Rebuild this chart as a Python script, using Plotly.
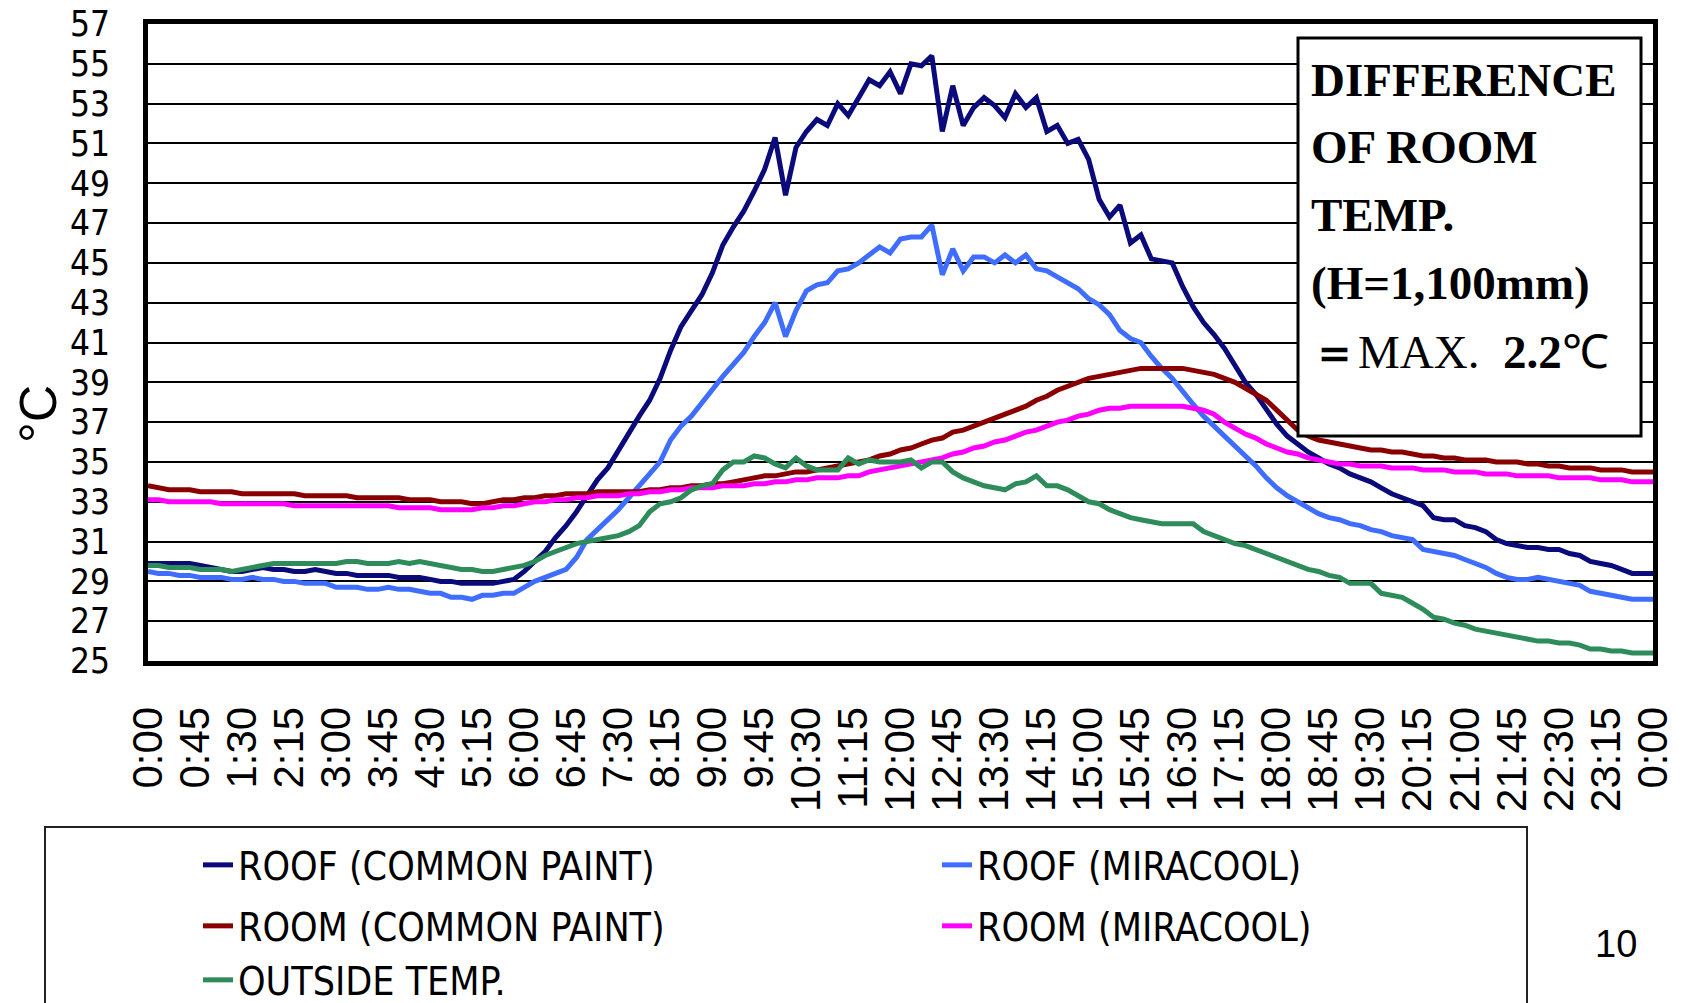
import plotly.graph_objects as go

# ---------------- data (10-minute readings, 0:00 -> 24:00) ----------------
TIME_MIN = list(range(0, 1441, 10))

ROOF_COMMON = [
    29.9, 29.9, 29.9, 29.9, 29.9, 29.8,
    29.7, 29.6, 29.5, 29.5, 29.6, 29.7,
    29.6, 29.6, 29.5, 29.5, 29.6, 29.5,
    29.4, 29.4, 29.3, 29.3, 29.3, 29.3,
    29.2, 29.2, 29.2, 29.1, 29.0, 29.0,
    28.9, 28.9, 28.9, 28.9, 29.0, 29.1,
    29.5, 30.0, 30.5, 31.2, 31.8, 32.5,
    33.3, 34.1, 34.7, 35.6, 36.5, 37.3,
    38.1, 39.2, 40.6, 41.8, 42.6, 43.4,
    44.5, 45.9, 46.8, 47.6, 48.6, 49.7,
    51.3, 48.4, 50.8, 51.6, 52.2, 51.9,
    53.0, 52.4, 53.3, 54.2, 53.9, 54.6,
    53.5, 55.0, 54.9, 55.4, 51.6, 53.9,
    51.9, 52.8, 53.3, 52.9, 52.3, 53.5,
    52.8, 53.3, 51.6, 51.9, 51.0, 51.2,
    50.2, 48.2, 47.3, 47.9, 46.0, 46.4,
    45.2, 45.1, 45.0, 43.8, 42.8, 42.0,
    41.4, 40.7, 39.8, 39.0, 38.4, 37.6,
    36.9, 36.3, 35.9, 35.5, 35.2, 34.9,
    34.7, 34.4, 34.2, 34.0, 33.7, 33.4,
    33.2, 33.0, 32.8, 32.2, 32.1, 32.1,
    31.8, 31.7, 31.5, 31.1, 30.9, 30.8,
    30.7, 30.7, 30.6, 30.6, 30.4, 30.3,
    30.0, 29.9, 29.8, 29.6, 29.4, 29.4,
    29.4,
]

ROOF_MIRACOOL = [
    29.5, 29.4, 29.4, 29.3, 29.3, 29.2,
    29.2, 29.2, 29.1, 29.1, 29.2, 29.1,
    29.1, 29.0, 29.0, 28.9, 28.9, 28.9,
    28.7, 28.7, 28.7, 28.6, 28.6, 28.7,
    28.6, 28.6, 28.5, 28.4, 28.4, 28.2,
    28.2, 28.1, 28.3, 28.3, 28.4, 28.4,
    28.7, 29.0, 29.2, 29.4, 29.6, 30.2,
    31.1, 31.6, 32.1, 32.6, 33.2, 33.8,
    34.4, 35.0, 36.1, 36.8, 37.3, 38.0,
    38.6, 39.3, 39.9, 40.5, 41.3, 42.0,
    43.0, 41.3, 42.6, 43.6, 43.9, 44.0,
    44.6, 44.7, 45.0, 45.4, 45.8, 45.5,
    46.2, 46.3, 46.3, 46.9, 44.4, 45.7,
    44.6, 45.3, 45.3, 45.0, 45.4, 45.0,
    45.4, 44.7, 44.6, 44.3, 44.0, 43.7,
    43.2, 42.9, 42.4, 41.6, 41.2, 41.0,
    40.3, 39.7, 39.2, 38.5, 37.9, 37.3,
    36.8, 36.3, 35.8, 35.3, 34.8, 34.2,
    33.7, 33.3, 33.0, 32.7, 32.4, 32.2,
    32.1, 31.9, 31.8, 31.6, 31.5, 31.3,
    31.2, 31.1, 30.6, 30.5, 30.4, 30.3,
    30.1, 29.9, 29.7, 29.4, 29.2, 29.1,
    29.1, 29.2, 29.1, 29.0, 28.9, 28.8,
    28.5, 28.4, 28.3, 28.2, 28.1, 28.1,
    28.1,
]

ROOM_COMMON = [
    33.8, 33.7, 33.6, 33.6, 33.6, 33.5,
    33.5, 33.5, 33.5, 33.4, 33.4, 33.4,
    33.4, 33.4, 33.4, 33.3, 33.3, 33.3,
    33.3, 33.3, 33.2, 33.2, 33.2, 33.2,
    33.2, 33.1, 33.1, 33.1, 33.0, 33.0,
    33.0, 32.9, 32.9, 33.0, 33.1, 33.1,
    33.2, 33.2, 33.3, 33.3, 33.4, 33.4,
    33.4, 33.5, 33.5, 33.5, 33.5, 33.5,
    33.6, 33.6, 33.7, 33.7, 33.8, 33.8,
    33.9, 33.9, 34.0, 34.1, 34.2, 34.3,
    34.3, 34.4, 34.5, 34.5, 34.6, 34.7,
    34.8, 34.9, 35.0, 35.1, 35.3, 35.4,
    35.6, 35.7, 35.9, 36.1, 36.2, 36.5,
    36.6, 36.8, 37.0, 37.2, 37.4, 37.6,
    37.8, 38.1, 38.3, 38.6, 38.8, 39.0,
    39.2, 39.3, 39.4, 39.5, 39.6, 39.7,
    39.7, 39.7, 39.7, 39.7, 39.6, 39.5,
    39.4, 39.2, 39.0, 38.7, 38.4, 38.1,
    37.6, 37.1, 36.6, 36.3, 36.1, 36.0,
    35.9, 35.8, 35.7, 35.6, 35.6, 35.5,
    35.5, 35.4, 35.3, 35.3, 35.2, 35.2,
    35.1, 35.1, 35.1, 35.0, 35.0, 35.0,
    34.9, 34.9, 34.8, 34.8, 34.7, 34.7,
    34.7, 34.6, 34.6, 34.6, 34.5, 34.5,
    34.5,
]

ROOM_MIRACOOL = [
    33.1, 33.1, 33.0, 33.0, 33.0, 33.0,
    33.0, 32.9, 32.9, 32.9, 32.9, 32.9,
    32.9, 32.9, 32.8, 32.8, 32.8, 32.8,
    32.8, 32.8, 32.8, 32.8, 32.8, 32.8,
    32.7, 32.7, 32.7, 32.7, 32.6, 32.6,
    32.6, 32.6, 32.7, 32.7, 32.8, 32.8,
    32.9, 33.0, 33.0, 33.1, 33.1, 33.2,
    33.2, 33.3, 33.3, 33.3, 33.4, 33.4,
    33.5, 33.5, 33.6, 33.6, 33.7, 33.7,
    33.7, 33.8, 33.8, 33.8, 33.9, 33.9,
    34.0, 34.0, 34.1, 34.1, 34.2, 34.2,
    34.2, 34.3, 34.3, 34.5, 34.6, 34.7,
    34.8, 34.9, 35.0, 35.1, 35.2, 35.4,
    35.5, 35.7, 35.8, 36.0, 36.1, 36.3,
    36.5, 36.6, 36.8, 37.0, 37.1, 37.3,
    37.4, 37.6, 37.7, 37.7, 37.8, 37.8,
    37.8, 37.8, 37.8, 37.8, 37.7, 37.6,
    37.4, 37.0, 36.7, 36.4, 36.2, 35.9,
    35.7, 35.5, 35.4, 35.2, 35.1, 35.0,
    34.9, 34.9, 34.8, 34.8, 34.8, 34.7,
    34.7, 34.7, 34.6, 34.6, 34.6, 34.5,
    34.5, 34.5, 34.4, 34.4, 34.4, 34.3,
    34.3, 34.3, 34.3, 34.2, 34.2, 34.2,
    34.2, 34.1, 34.1, 34.1, 34.0, 34.0,
    34.0,
]

OUTSIDE = [
    29.8, 29.8, 29.7, 29.7, 29.7, 29.6,
    29.6, 29.6, 29.5, 29.6, 29.7, 29.8,
    29.9, 29.9, 29.9, 29.9, 29.9, 29.9,
    29.9, 30.0, 30.0, 29.9, 29.9, 29.9,
    30.0, 29.9, 30.0, 29.9, 29.8, 29.7,
    29.6, 29.6, 29.5, 29.5, 29.6, 29.7,
    29.8, 30.0, 30.3, 30.5, 30.7, 30.9,
    31.0, 31.1, 31.2, 31.3, 31.5, 31.8,
    32.5, 32.9, 33.0, 33.2, 33.6, 33.8,
    33.9, 34.6, 35.0, 35.0, 35.3, 35.2,
    34.9, 34.7, 35.2, 34.8, 34.6, 34.6,
    34.6, 35.2, 34.9, 35.1, 35.0, 35.0,
    35.0, 35.1, 34.7, 35.0, 35.0, 34.5,
    34.2, 34.0, 33.8, 33.7, 33.6, 33.9,
    34.0, 34.3, 33.8, 33.8, 33.6, 33.3,
    33.0, 32.9, 32.6, 32.4, 32.2, 32.1,
    32.0, 31.9, 31.9, 31.9, 31.9, 31.5,
    31.3, 31.1, 30.9, 30.8, 30.6, 30.4,
    30.2, 30.0, 29.8, 29.6, 29.5, 29.3,
    29.2, 28.9, 28.9, 28.9, 28.4, 28.3,
    28.2, 27.9, 27.6, 27.2, 27.1, 26.9,
    26.8, 26.6, 26.5, 26.4, 26.3, 26.2,
    26.1, 26.0, 26.0, 25.9, 25.9, 25.8,
    25.6, 25.6, 25.5, 25.5, 25.4, 25.4,
    25.4,
]

TICK_MIN = list(range(0, 1441, 45))
TICK_LABELS = [
    "0:00", "0:45", "1:30", "2:15", "3:00", "3:45", "4:30", "5:15", "6:00",
    "6:45", "7:30", "8:15", "9:00", "9:45", "10:30", "11:15", "12:00",
    "12:45", "13:30", "14:15", "15:00", "15:45", "16:30", "17:15", "18:00",
    "18:45", "19:30", "20:15", "21:00", "21:45", "22:30", "23:15", "0:00",
]

# name, values, colour, legend row
SERIES = [
    ("ROOF (COMMON PAINT)", ROOF_COMMON, "#0a0a7a", "legend"),
    ("ROOF (MIRACOOL)", ROOF_MIRACOOL, "#3f6dff", "legend"),
    ("ROOM (COMMON PAINT)", ROOM_COMMON, "#8a0000", "legend2"),
    ("ROOM (MIRACOOL)", ROOM_MIRACOOL, "#ff00ff", "legend2"),
    ("OUTSIDE TEMP.", OUTSIDE, "#2e8b5a", "legend3"),
]

NOTE_LINES = [
    "<b>DIFFERENCE</b>",
    "<b>OF ROOM</b>",
    "<b>TEMP.</b>",
    "<b>(H=1,100mm)</b>",
    "<b>＝</b>MAX.\u00a0\u00a0<b>2.2</b>℃",
]

# ---------------- layout geometry (pixels) ----------------
W, H = 1689, 1003
PL, PR, PT, PB = 148, 1653, 24, 661
PW, PH = PR - PL, PB - PT


def px(x):
    return (x - PL) / PW


def py(y):
    return (PB - y) / PH


NARROW = "Liberation Sans Narrow, Arial Narrow, DejaVu Sans Condensed, sans-serif"
SANS = "Liberation Sans, Arial, sans-serif"

fig = go.Figure()
for name, vals, col, leg in SERIES:
    fig.add_trace(go.Scatter(
        x=TIME_MIN, y=vals, mode="lines", name=name, legend=leg,
        line=dict(color=col, width=5),
    ))


def legend_row(yc):
    return dict(
        orientation="h", x=px(198), y=py(yc), xanchor="left", yanchor="middle",
        font=dict(family=NARROW, size=39, color="black"),
        entrywidth=694, entrywidthmode="pixels",
        bgcolor="rgba(0,0,0,0)", borderwidth=0, itemwidth=30,
    )


fig.update_layout(
    width=W, height=H,
    margin=dict(l=PL, r=W - PR, t=PT, b=H - PB, pad=0, autoexpand=False),
    paper_bgcolor="white", plot_bgcolor="white",
    showlegend=True,
    legend=legend_row(865),
    legend2=legend_row(926),
    legend3=legend_row(980),
    xaxis=dict(
        range=[0, 1440], tickmode="array", tickvals=TICK_MIN, ticktext=TICK_LABELS,
        tickangle=-90, showgrid=False, zeroline=False, automargin=False,
        showline=True, mirror=True, linecolor="black", linewidth=5,
        ticks="", ticklabelstandoff=24, ticklabeloverflow="allow",
        tickfont=dict(family=SANS, size=42, color="black"),
    ),
    yaxis=dict(
        range=[25, 57], tick0=25, dtick=2, showgrid=True, gridcolor="black", gridwidth=1.5,
        zeroline=False, showline=True, mirror=True, linecolor="black", linewidth=5,
        automargin=False, ticks="", ticklabelstandoff=26, ticklabeloverflow="allow",
        tickfont=dict(family=NARROW, size=35, color="black"),
    ),
    shapes=[
        dict(type="rect", xref="paper", yref="paper", layer="above",
             x0=px(1298), x1=px(1641), y0=py(436), y1=py(38),
             fillcolor="white", line=dict(color="black", width=3)),
        dict(type="rect", xref="paper", yref="paper", layer="below",
             x0=px(45), x1=px(1527), y0=py(1010), y1=py(827),
             fillcolor="rgba(0,0,0,0)", line=dict(color="#222222", width=2)),
    ],
)

annotations = [
    dict(text="°C", x=px(38), y=py(414), xref="paper", yref="paper",
         textangle=-90, showarrow=False, xanchor="center", yanchor="middle",
         font=dict(family=SANS, size=52, color="black")),
    dict(text="10", x=px(1616), y=py(944), xref="paper", yref="paper",
         showarrow=False, xanchor="center", yanchor="middle",
         font=dict(family=SANS, size=38, color="black")),
]
for line, yc in zip(NOTE_LINES, [80, 147, 215, 283, 352]):
    annotations.append(dict(
        text=line, x=px(1309), y=py(yc), xref="paper", yref="paper",
        showarrow=False, xanchor="left", yanchor="middle",
        font=dict(family="Liberation Serif, Times New Roman, serif", size=47, color="black"),
    ))
fig.update_layout(annotations=annotations)

fig.write_html(
    "out.html",
    config={"displayModeBar": False},
    post_script="document.body.style.margin='0';document.body.style.overflow='hidden';",
)
